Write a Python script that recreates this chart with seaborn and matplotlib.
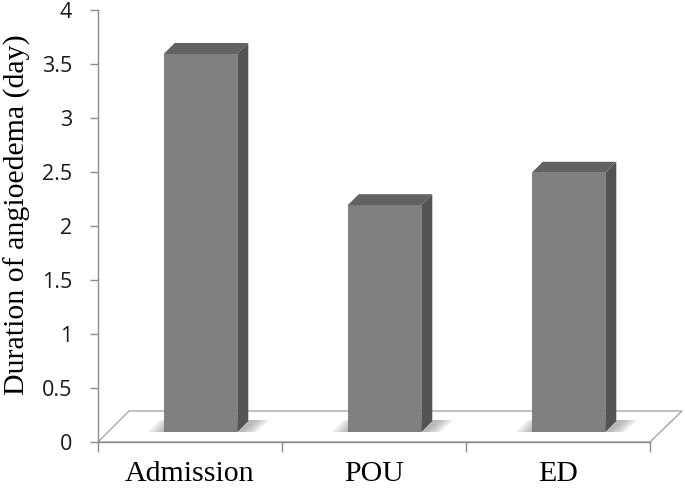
import numpy as np
import matplotlib
matplotlib.use("Agg")
import matplotlib.pyplot as plt
import seaborn as sns
from matplotlib.patches import Polygon
from matplotlib.transforms import ScaledTranslation, IdentityTransform

categories = ["Admission", "POU", "ED"]
values = [3.5, 2.1, 2.4]
yticks = [0, 0.5, 1, 1.5, 2, 2.5, 3, 3.5, 4]
ytick_labels = ["0", "0.5", "1", "1.5", "2", "2.5", "3", "3.5", "4"]
ylabel = "Duration of angioedema (day)"

sns.set_style("white")
W, H, DPI = 685, 494, 100
fig = plt.figure(figsize=(W / DPI, H / DPI), dpi=DPI)
ax = fig.add_axes([98 / W, 52 / H, 552 / W, 432 / H])
ax.set_facecolor("none")

sns.barplot(x=categories, y=values, color="#808080", width=0.4, saturation=1,
            linewidth=0, ax=ax, zorder=3)
ax.set_xlim(-0.5, 2.5)
ax.set_ylim(0, 4)

AX_C = "#8c8c8c"
for s in ["top", "right"]:
    ax.spines[s].set_visible(False)
for s in ["left", "bottom"]:
    ax.spines[s].set_color(AX_C)
    ax.spines[s].set_linewidth(1.0)
    ax.spines[s].set_zorder(2)

# 3D-like offsets (pixels)
offx, offy = 10.5, 10.0
depth = 11.0
floor_depth = 31.0

off = ScaledTranslation(offx / DPI, offy / DPI, fig.dpi_scale_trans)
ident = IdentityTransform()

# floor
(x0f, y0f) = ax.transData.transform((-0.5, 0))
(x1f, _) = ax.transData.transform((2.5, 0))
floor = Polygon([(x0f, y0f), (x1f, y0f), (x1f + floor_depth + 1, y0f + floor_depth),
                 (x0f + floor_depth, y0f + floor_depth)], closed=True,
                facecolor="white", edgecolor="#a6a6a6", linewidth=1.0,
                transform=ident, clip_on=False, zorder=1)
ax.add_patch(floor)

bars = list(ax.patches)
bars = [b for b in bars if b is not floor]
for p in bars:
    p.set_transform(ax.transData + off)
    bx, bw, bh = p.get_x(), p.get_width(), p.get_height()
    X0, Yb = ax.transData.transform((bx, 0))
    X1, Yt = ax.transData.transform((bx + bw, bh))
    X0 += offx; X1 += offx; Yb += offy; Yt += offy
    # soft shadow on floor
    for k in range(16, 0, -1):
        sh = Polygon([(X0 - k, Yb), (X1 + k + 4, Yb), (X1 + depth + k + 6, Yb + depth + 1),
                      (X0 + depth - k, Yb + depth + 1)], closed=True,
                     facecolor="#808080", edgecolor="none", alpha=0.045,
                     transform=ident, clip_on=False, zorder=1.5)
        ax.add_patch(sh)
    # side face
    side = Polygon([(X1, Yb), (X1, Yt), (X1 + depth, Yt + depth), (X1 + depth, Yb + depth)],
                   closed=True, facecolor="#535353", edgecolor="none",
                   transform=ident, clip_on=False, zorder=3)
    ax.add_patch(side)
    # top face
    top = Polygon([(X0, Yt), (X1, Yt), (X1 + depth, Yt + depth), (X0 + depth, Yt + depth)],
                  closed=True, facecolor="#626262", edgecolor="none",
                  transform=ident, clip_on=False, zorder=3)
    ax.add_patch(top)

# y axis
ax.set_yticks(yticks)
ax.set_yticklabels(ytick_labels, fontfamily="Open Sans", fontsize=15.5, color="#1a1a1a")
ax.tick_params(axis="y", direction="out", length=5.8, width=1, color=AX_C, pad=13, left=True)

# x axis
ax.set_xticks([0, 1, 2])
ax.set_xticklabels(categories, fontfamily="Liberation Serif", fontsize=21.5, color="black")
ax.tick_params(axis="x", which="major", length=0, pad=14)
ax.set_xticks([-0.5, 0.5, 1.5, 2.5], minor=True)
ax.tick_params(axis="x", which="minor", direction="out", length=7.2, width=1, color=AX_C, bottom=True)

ax.set_xlabel("")
ax.set_ylabel(ylabel, fontfamily="Liberation Serif", fontsize=21.5, color="black")
ax.yaxis.set_label_coords((31.5 - 98) / 552, (494 - 214.5 - 52) / 432)

fig.savefig("out.png", dpi=DPI)
